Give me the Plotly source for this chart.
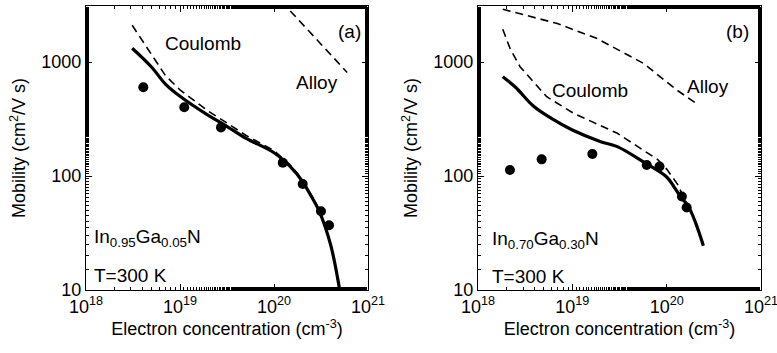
import plotly.graph_objects as go
from plotly.subplots import make_subplots

# Panel (a): In0.95Ga0.05N
a_total_x = [3.1e18, 5e18, 7e18, 1e19, 2e19, 3e19, 5e19, 1e20, 1.5e20, 2e20, 2.5e20, 3e20, 4e20, 5e20]
a_total_y = [1320, 900, 640, 500, 340, 280, 215, 160, 120, 90, 66, 50, 25, 10]
a_coul_x = [3.1e18, 5e18, 7e18, 1e19, 2e19, 3e19, 5e19, 1e20, 1.5e20, 2e20, 2.5e20, 3e20, 4e20, 5e20]
a_coul_y = [2100, 1150, 760, 570, 370, 300, 228, 167, 124, 93, 68, 51, 25.5, 10]
a_alloy_x = [1.2e20, 2.85e20, 6e20]
a_alloy_y = [3400, 1560, 810]
a_exp_x = [4.07e18, 1.11e19, 2.73e19, 1.24e20, 2.02e20, 3.16e20, 3.85e20]
a_exp_y = [600, 401, 267, 131, 85, 49, 37]

# Panel (b): In0.70Ga0.30N
b_total_x = [1.83e18, 2.5e18, 3.86e18, 6e18, 1e19, 2e19, 3e19, 6e19, 1e20, 1.2e20, 1.4e20, 1.7e20, 2e20, 2.45e20]
b_total_y = [743, 600, 411, 320, 253, 200, 181, 129, 98, 80, 66, 54, 40, 24.5]
b_coul_x = [1.83e18, 2.2e18, 2.79e18, 4e18, 5.35e18, 1.03e19, 2e19, 3e19, 6e19, 8e19, 1e20, 1.3e20, 1.5e20, 1.8e20, 2.45e20]
b_coul_y = [1935, 1300, 910, 650, 496, 355, 275, 237, 163, 140, 115, 85, 66, 50, 25]
b_alloy_x = [1.83e18, 3e18, 6.8e18, 1.81e19, 5.66e19, 1.28e20, 2.17e20]
b_alloy_y = [2900, 2600, 2185, 1614, 974, 568, 420]
b_exp_x = [2.18e18, 4.73e18, 1.63e19, 6.15e19, 8.4e19, 1.45e20, 1.63e20]
b_exp_y = [113, 140, 156, 125, 121, 66, 53]

xtick_vals = [1e18, 1e19, 1e20, 1e21]
xtick_text = ["10<sup>18</sup>", "10<sup>19</sup>", "10<sup>20</sup>", "10<sup>21</sup>"]
ytick_vals = [10, 100, 1000]
ytick_text = ["10", "100", "1000"]

FONT = "Liberation Sans, Arial, Helvetica, sans-serif"
W, H = 777, 353

fig = make_subplots(rows=1, cols=2)

panels = [
    (1, a_total_x, a_total_y, a_coul_x, a_coul_y, a_alloy_x, a_alloy_y, a_exp_x, a_exp_y),
    (2, b_total_x, b_total_y, b_coul_x, b_coul_y, b_alloy_x, b_alloy_y, b_exp_x, b_exp_y),
]
for col, tx, ty, cx, cy, ax, ay, ex, ey in panels:
    fig.add_trace(go.Scatter(x=cx, y=cy, mode="lines", line=dict(color="black", width=1.6, dash="8px,5px"),
                             showlegend=False), row=1, col=col)
    fig.add_trace(go.Scatter(x=ax, y=ay, mode="lines", line=dict(color="black", width=1.6, dash="8px,5px"),
                             showlegend=False), row=1, col=col)
    fig.add_trace(go.Scatter(x=tx, y=ty, mode="lines", line=dict(color="black", width=3.2, shape="spline"),
                             showlegend=False), row=1, col=col)
    fig.add_trace(go.Scatter(x=ex, y=ey, mode="markers", marker=dict(color="black", size=10),
                             showlegend=False, cliponaxis=False), row=1, col=col)

axis_common = dict(type="log", showline=True, linecolor="black", linewidth=1.2, mirror="ticks",
                   ticks="inside", ticklen=6, tickcolor="black", tickwidth=1,
                   showgrid=False, zeroline=False, automargin=False, ticklabeloverflow="allow",
                   tickfont=dict(family=FONT, size=18, color="black"),
                   minor=dict(ticks="inside", ticklen=3, tickcolor="black", showgrid=False))

xdomains = [[86 / W, 368 / W], [478 / W, 761 / W]]
for i, dom in enumerate(xdomains):
    n = "" if i == 0 else "2"
    fig.update_layout({
        f"xaxis{n}": dict(axis_common, domain=dom, range=[18, 21], tickvals=xtick_vals, ticktext=xtick_text,
                          title=dict(text="Electron concentration (cm<sup>-3</sup>)",
                                     font=dict(family=FONT, size=18, color="black"), standoff=5)),
        f"yaxis{n}": dict(axis_common, range=[1, 1 + 284 / 114], tickvals=ytick_vals, ticktext=ytick_text,
                          title=dict(text="Mobility (cm<sup>2</sup>/V s)",
                                     font=dict(family=FONT, size=18, color="black"), standoff=10)),
    })

def ann(text, x, y, xanchor="center", size=19):
    fig.add_annotation(text=text, x=x / W, y=(290 - y) / 284, xref="paper", yref="paper", showarrow=False,
                       xanchor=xanchor, yanchor="middle",
                       font=dict(family=FONT, size=size, color="black"))

ann("(a)", 349, 32)
ann("Coulomb", 203, 43)
ann("Alloy", 317, 82)
ann("In<sub>0.95</sub>Ga<sub>0.05</sub>N", 92, 238, xanchor="left")
ann("T=300 K", 92, 275, xanchor="left")

ann("(b)", 737, 32)
ann("Coulomb", 590, 90)
ann("Alloy", 708, 87)
ann("In<sub>0.70</sub>Ga<sub>0.30</sub>N", 490, 240, xanchor="left")
ann("T=300 K", 490, 276, xanchor="left")

fig.update_layout(width=W, height=H, margin=dict(l=0, r=0, t=6, b=63),
                  paper_bgcolor="white", plot_bgcolor="white",
                  font=dict(family=FONT, color="black"))

fig.write_html("out.html", config={"displayModeBar": False},
               post_script="document.body.style.margin='0px';document.body.style.overflow='hidden';")
